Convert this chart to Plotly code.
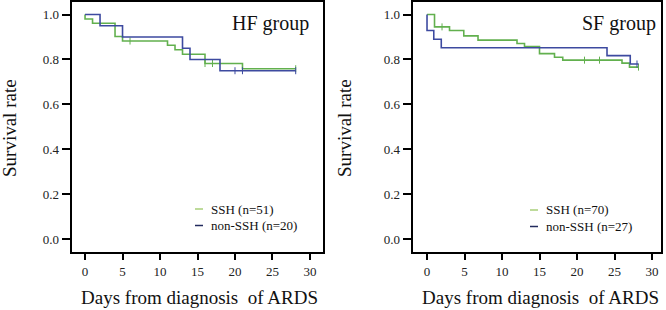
import plotly.graph_objects as go

# ---------------- data ----------------
# HF group
hf_ssh_t = [0, 0, 1, 4, 5, 11, 12, 13, 16, 21, 28.1]
hf_ssh_s = [1.0, 0.980, 0.961, 0.902, 0.882, 0.863, 0.843, 0.823, 0.782, 0.759, 0.759]
hf_ssh_cens_t = [6, 16, 17, 28.1]
hf_ssh_cens_s = [0.882, 0.782, 0.782, 0.759]

hf_non_t = [0, 2, 5, 13, 14, 18, 28.1]
hf_non_s = [1.0, 0.95, 0.90, 0.85, 0.80, 0.75, 0.75]
hf_non_cens_t = [20, 21, 28.1]
hf_non_cens_s = [0.75, 0.75, 0.75]

# SF group
sf_ssh_t = [0, 1, 3, 4.9, 6.8, 12, 13, 15, 17, 18.1, 26, 27, 28.2]
sf_ssh_s = [1.0, 0.945, 0.929, 0.905, 0.886, 0.871, 0.857, 0.826, 0.810, 0.797, 0.784, 0.766, 0.766]
sf_ssh_cens_t = [2, 21, 23, 28.2]
sf_ssh_cens_s = [0.945, 0.797, 0.797, 0.766]

sf_non_t = [0, 0, 0.9, 1.9, 24, 27.1, 28.2]
sf_non_s = [1.0, 0.929, 0.890, 0.852, 0.817, 0.780, 0.780]
sf_non_cens_t = [28.0]
sf_non_cens_s = [0.780]

group_titles = ["HF group", "SF group"]
legend_ssh = ["SSH (n=51)", "SSH (n=70)"]
legend_non = ["non-SSH (n=20)", "non-SSH (n=27)"]
x_ticks = [0, 5, 10, 15, 20, 25, 30]
y_ticks = [0.0, 0.2, 0.4, 0.6, 0.8, 1.0]

GREEN = "#62b04e"
BLUE = "#3d4aa0"
LEG_GREEN = "#a9cf7a"
LEG_BLUE = "#222b5e"
SERIF = "Liberation Serif"

W, H = 666, 310

fig = go.Figure()

def add_curves(t, s, ct, cs, color, xa, ya):
    fig.add_trace(go.Scatter(x=t, y=s, mode="lines", line=dict(color=color, width=1.6, shape="hv"),
                             xaxis=xa, yaxis=ya, showlegend=False, hoverinfo="skip"))
    fig.add_trace(go.Scatter(x=ct, y=cs, mode="markers",
                             marker=dict(symbol="line-ns", size=5, line=dict(color=color, width=1)),
                             xaxis=xa, yaxis=ya, showlegend=False, hoverinfo="skip"))

add_curves(hf_ssh_t, hf_ssh_s, hf_ssh_cens_t, hf_ssh_cens_s, GREEN, "x", "y")
add_curves(hf_non_t, hf_non_s, hf_non_cens_t, hf_non_cens_s, BLUE, "x", "y")
add_curves(sf_ssh_t, sf_ssh_s, sf_ssh_cens_t, sf_ssh_cens_s, GREEN, "x2", "y2")
add_curves(sf_non_t, sf_non_s, sf_non_cens_t, sf_non_cens_s, BLUE, "x2", "y2")

ydom = [1 - 251.7 / H, 1 - 1.7 / H]
axis_common = dict(showgrid=False, zeroline=False, showline=True, mirror=True,
                   linecolor="black", linewidth=1.5, ticks="outside", tickcolor="black",
                   tickwidth=1.5, tickfont=dict(family=SERIF, size=13, color="#222"))

fig.update_layout(
    width=W, height=H, margin=dict(l=0, r=0, t=0, b=0),
    font=dict(family=SERIF),
    paper_bgcolor="white", plot_bgcolor="white", showlegend=False,
    xaxis=dict(domain=[72.3 / W, 322.7 / W], range=[-1.7, 31.7], tickvals=x_ticks, ticklen=7, **axis_common),
    yaxis=dict(domain=ydom, range=[-0.055, 1.057], tickvals=y_ticks, tickformat=".1f", ticklen=9,
               anchor="x", **axis_common),
    xaxis2=dict(domain=[413.3 / W, 661 / W], range=[-1.83, 31.2], tickvals=x_ticks, ticklen=7,
                anchor="y2", **axis_common),
    yaxis2=dict(domain=ydom, range=[-0.055, 1.057], tickvals=y_ticks, tickformat=".1f", ticklen=9,
                anchor="x2", **axis_common),
)

ann = []
shapes = []
# group titles
for txt, cx in zip(group_titles, [270, 619]):
    ann.append(dict(text=txt, x=cx / W, y=1 - 23 / H, xref="paper", yref="paper", showarrow=False,
                    xanchor="center", yanchor="middle", font=dict(family=SERIF, size=20, color="#111")))
# y titles
for cx in [10, 345]:
    ann.append(dict(text="Survival rate", x=cx / W, y=1 - 128 / H, xref="paper", yref="paper",
                    showarrow=False, textangle=-90, xanchor="center", yanchor="middle",
                    font=dict(family=SERIF, size=19, color="#111")))
# x titles
for cx in [199, 540]:
    ann.append(dict(text="Days from diagnosis\u00a0 of ARDS", x=cx / W, y=1 - 297 / H, xref="paper",
                    yref="paper", showarrow=False, xanchor="center", yanchor="middle",
                    font=dict(family=SERIF, size=19, color="#111")))
# legends
for lx, ly, ssh, non in [(195, 209, legend_ssh[0], legend_non[0]), (530, 210, legend_ssh[1], legend_non[1])]:
    for dy, txt, col in [(0, ssh, LEG_GREEN), (16.5, non, LEG_BLUE)]:
        yy = 1 - (ly + dy) / H
        shapes.append(dict(type="line", xref="paper", yref="paper", x0=lx / W, x1=(lx + 8) / W,
                           y0=yy, y1=yy, line=dict(color=col, width=1.5)))
        ann.append(dict(text=txt, x=(lx + 14) / W, y=yy, xref="paper", yref="paper", showarrow=False,
                        xanchor="left", yanchor="middle", font=dict(family=SERIF, size=13, color="#111")))

fig.update_layout(annotations=ann, shapes=shapes)
fig.write_html("out.html")
